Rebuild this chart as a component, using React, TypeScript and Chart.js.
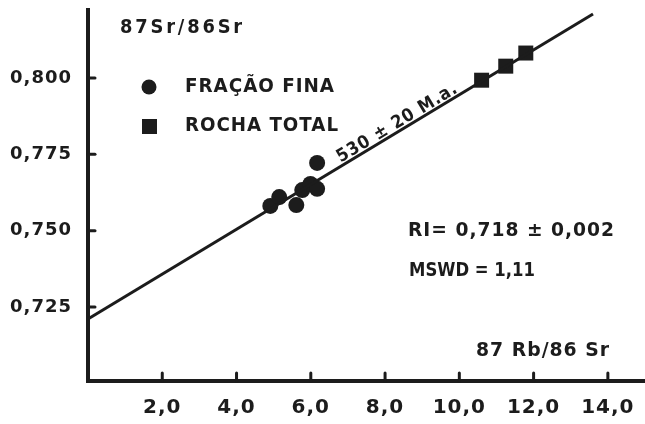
import React, { useEffect, useRef } from "react";
import { Chart, registerables } from "chart.js";

Chart.register(...registerables);

// ---- data ----
const X_TICKS = [2, 4, 6, 8, 10, 12, 14];
const Y_TICKS = [0.725, 0.75, 0.775, 0.8];

const FINE_X = [4.91, 5.15, 5.61, 5.77, 5.99, 6.17, 6.17];
const FINE_Y = [0.7581, 0.761, 0.7584, 0.7633, 0.7653, 0.7637, 0.7722];

const TOTAL_X = [10.6, 11.25, 11.79];
const TOTAL_Y = [0.7993, 0.8039, 0.8082];

const ISO_X = [0, 13.6];
const ISO_Y = [0.7211, 0.821];

const X_MIN = 0;
const X_MAX = 15;
const Y_MIN = 0.70075;
const Y_MAX = 0.8223;

const LEGEND_FINE = "FRAÇÃO FINA";
const LEGEND_TOTAL = "ROCHA TOTAL";
const Y_TITLE = "87Sr/86Sr";
const X_TITLE = "87 Rb/86 Sr";
const AGE_TEXT = "530 ± 20 M.a.";
const RI_TEXT = "RI= 0,718 ± 0,002";
const MSWD_TEXT = "MSWD = 1,11";
const AGE_LABEL_X = 6.85;

const INK = "#1c1c1c";
const FONT = "'DejaVu Sans', sans-serif";

const zip = (xs: number[], ys: number[]) => xs.map((x, i) => ({ x, y: ys[i] }));

const decorPlugin = {
  id: "decor",
  beforeDraw(chart: any) {
    chart.ctx.letterSpacing = "1px";
  },
  afterDraw(chart: any) {
    const ctx = chart.ctx;
    const xs = chart.scales.x;
    const ys = chart.scales.y;
    const area = chart.chartArea;
    ctx.save();
    ctx.strokeStyle = INK;
    ctx.fillStyle = INK;
    ctx.lineCap = "round";
    // inward ticks
    ctx.lineWidth = 3;
    Y_TICKS.forEach((v) => {
      const py = ys.getPixelForValue(v);
      ctx.beginPath();
      ctx.moveTo(area.left, py);
      ctx.lineTo(area.left + 7, py);
      ctx.stroke();
    });
    X_TICKS.forEach((v) => {
      const px = xs.getPixelForValue(v);
      ctx.beginPath();
      ctx.moveTo(px, area.bottom);
      ctx.lineTo(px, area.bottom - 8);
      ctx.stroke();
    });

    ctx.textBaseline = "middle";
    ctx.textAlign = "left";

    // axis titles
    ctx.letterSpacing = "3px";
    ctx.font = `bold 19px ${FONT}`;
    ctx.fillText(Y_TITLE, 120, 28, 125);
    ctx.letterSpacing = "1px";
    ctx.fillText(X_TITLE, 476, 351, 134);

    // legend
    ctx.beginPath();
    ctx.arc(149, 87, 7.5, 0, Math.PI * 2);
    ctx.fill();
    ctx.fillRect(142, 119, 15, 15);
    ctx.fillText(LEGEND_FINE, 185, 87, 150);
    ctx.fillText(LEGEND_TOTAL, 185, 126, 154);

    // statistics
    ctx.fillText(RI_TEXT, 408, 231, 207);
    ctx.letterSpacing = "0px";
    ctx.fillText(MSWD_TEXT, 409, 271, 126);
    ctx.letterSpacing = "1px";

    // age label along the isochron
    const x0 = xs.getPixelForValue(ISO_X[0]);
    const y0 = ys.getPixelForValue(ISO_Y[0]);
    const x1 = xs.getPixelForValue(ISO_X[1]);
    const y1 = ys.getPixelForValue(ISO_Y[1]);
    const ang = Math.atan2(y1 - y0, x1 - x0);
    const t = (AGE_LABEL_X - ISO_X[0]) / (ISO_X[1] - ISO_X[0]);
    const ax = x0 + (x1 - x0) * t;
    const ay = y0 + (y1 - y0) * t;
    ctx.translate(ax, ay);
    ctx.rotate(ang);
    ctx.textBaseline = "alphabetic";
    ctx.font = `bold 18px ${FONT}`;
    ctx.fillText(AGE_TEXT, 0, -3, 138);
    ctx.restore();
    ctx.letterSpacing = "0px";
  },
};

export default function App() {
  const ref = useRef<HTMLCanvasElement | null>(null);
  useEffect(() => {
    if (!ref.current) return;
    const chart = new Chart(ref.current, {
      type: "scatter",
      data: {
        datasets: [
          {
            type: "line",
            label: "Isócrona",
            data: zip(ISO_X, ISO_Y),
            borderColor: INK,
            borderWidth: 3,
            pointRadius: 0,
            fill: false,
            tension: 0,
          } as any,
          {
            label: LEGEND_FINE,
            data: zip(FINE_X, FINE_Y),
            pointStyle: "circle",
            pointRadius: 8,
            backgroundColor: INK,
            borderColor: INK,
            borderWidth: 0,
          },
          {
            label: LEGEND_TOTAL,
            data: zip(TOTAL_X, TOTAL_Y),
            pointStyle: "rect",
            pointRadius: 10.6,
            backgroundColor: INK,
            borderColor: INK,
            borderWidth: 0,
          },
        ],
      },
      options: {
        responsive: false,
        animation: false,
        devicePixelRatio: 1,
        layout: { autoPadding: false, padding: { top: 10, right: 0, left: 0, bottom: 0 } },
        plugins: {
          legend: { display: false },
          tooltip: { enabled: false },
        },
        scales: {
          x: {
            type: "linear",
            min: X_MIN,
            max: X_MAX,
            grid: { display: false, drawTicks: false },
            border: { display: true, color: INK, width: 4 },
            afterBuildTicks: (s: any) => {
              s.ticks = X_TICKS.map((v) => ({ value: v }));
            },
            afterFit: (s: any) => {
              s.height = 43;
              s.paddingLeft = 0;
              s.paddingRight = 0;
            },
            ticks: {
              color: INK,
              padding: 15,
              maxRotation: 0,
              font: { family: FONT, weight: "bold", size: 20 },
              callback: (v: any) => Number(v).toFixed(1).replace(".", ","),
            },
          },
          y: {
            type: "linear",
            min: Y_MIN,
            max: Y_MAX,
            grid: { display: false, drawTicks: false },
            border: { display: true, color: INK, width: 4 },
            afterBuildTicks: (s: any) => {
              s.ticks = Y_TICKS.map((v) => ({ value: v }));
            },
            afterFit: (s: any) => {
              s.width = 88;
              s.paddingTop = 0;
              s.paddingBottom = 0;
            },
            ticks: {
              color: INK,
              padding: 16,
              font: { family: FONT, weight: "bold", size: 18 },
              callback: (v: any) => Number(v).toFixed(3).replace(".", ","),
            },
          },
        },
      } as any,
      plugins: [decorPlugin],
    });
    return () => chart.destroy();
  }, []);
  return (
    <canvas
      ref={ref}
      width={645}
      height={424}
      style={{ position: "fixed", left: 0, top: 0, width: 645, height: 424, background: "#fff" }}
    />
  );
}
